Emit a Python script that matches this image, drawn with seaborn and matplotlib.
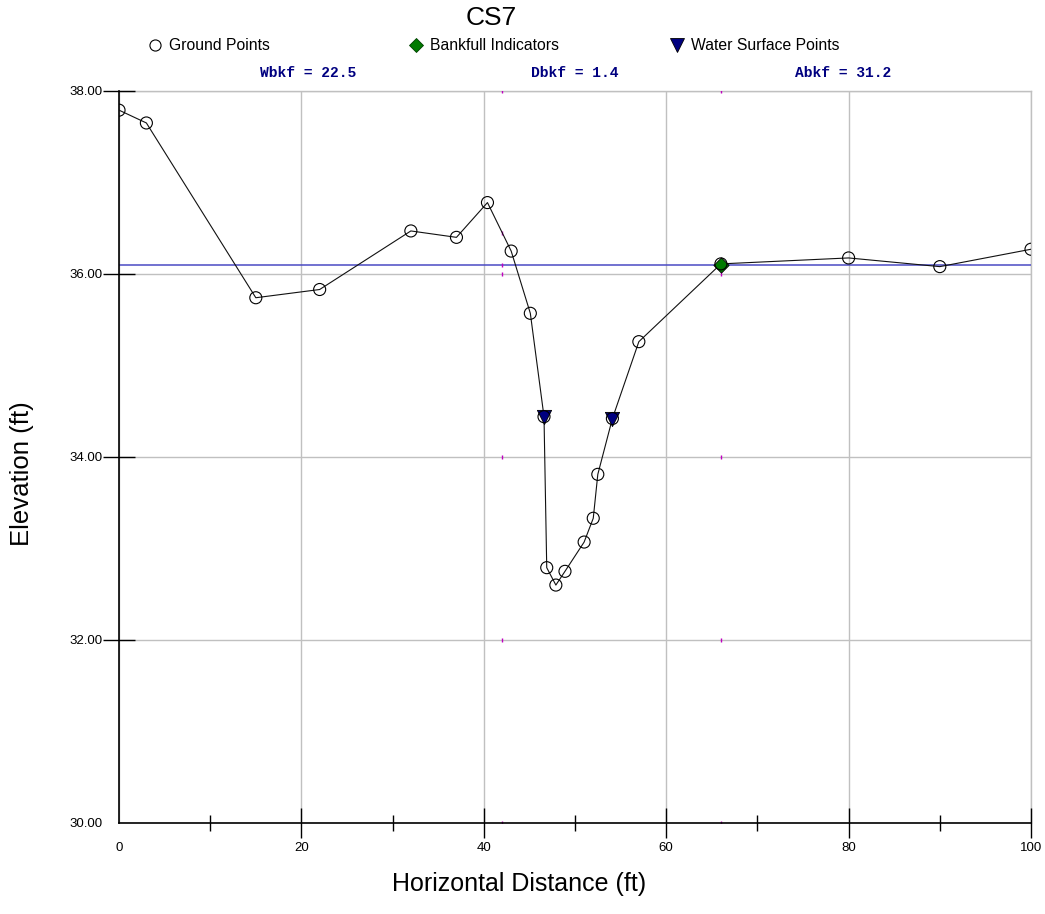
import matplotlib
matplotlib.use("Agg")
import matplotlib.pyplot as plt
import seaborn as sns
import pandas as pd
from matplotlib.lines import Line2D
from matplotlib.ticker import FixedLocator, FormatStrFormatter

# ---------------- data ----------------
title = "CS7"
station = [0, 3, 15, 22, 32, 37, 40.4, 43, 45.1, 46.6, 46.9, 47.9, 48.9, 51, 52,
           52.5, 54.1, 57, 66, 80, 90, 100]
elevation = [37.79, 37.65, 35.74, 35.83, 36.47, 36.40, 36.78, 36.25, 35.57, 34.44,
             32.79, 32.60, 32.75, 33.07, 33.33, 33.81, 34.42, 35.26, 36.11, 36.175,
             36.08, 36.27]
bankfull_x = [66.0]
bankfull_y = [36.10]
ws_x = [46.6, 54.1]
ws_y = [34.44, 34.42]
bankfull_elev = 36.10
bkf_marks_x = [42.0, 42.0, 42.0, 42.0, 42.0, 42.0, 42.0, 66.0, 66.0, 66.0, 66.0, 66.0, 66.0]
bkf_marks_y = [38.0, 36.45, 36.1, 36.0, 34.0, 32.0, 30.0, 38.0, 36.0, 34.0, 32.0, 30.0, 36.1]
stats_labels = ["Wbkf = 22.5", "Dbkf = 1.4", "Abkf = 31.2"]
legend_labels = ["Ground Points", "Bankfull Indicators", "Water Surface Points"]
x_major = [0, 20, 40, 60, 80, 100]
x_minor = [10, 30, 50, 70, 90]
y_major = [30, 32, 34, 36, 38]
xlabel = "Horizontal Distance (ft)"
ylabel = "Elevation (ft)"

ground = pd.DataFrame({"station": station, "elevation": elevation})
bkf = pd.DataFrame({"station": bankfull_x, "elevation": bankfull_y})
ws = pd.DataFrame({"station": ws_x, "elevation": ws_y})
marks = pd.DataFrame({"station": bkf_marks_x, "elevation": bkf_marks_y})

# ---------------- style ----------------
sns.set_style("white")
plt.rcParams["font.family"] = ["Liberation Sans", "DejaVu Sans"]
plt.rcParams["text.color"] = "black"

fig = plt.figure(figsize=(10.45, 9.14), dpi=100)
ax = fig.add_axes([0.1139, 0.0996, 0.8727, 0.8009])

ax.set_xlim(0, 100)
ax.set_ylim(30, 38)

grid_c = "#c0c0c0"
ax.set_axisbelow(True)
ax.grid(True, which="major", color=grid_c, lw=1.0)

# bankfull elevation line
ax.axhline(bankfull_elev, color="#4a4ac4", lw=1.1, zorder=2)

# magenta bankfull station marks
sns.scatterplot(data=marks, x="station", y="elevation", ax=ax, marker="|",
                s=6, color="#c000c0", linewidth=1.0, zorder=2, legend=False)

# ground line
sns.lineplot(data=ground, x="station", y="elevation", ax=ax, sort=False,
             estimator=None, color="#111111", lw=0.8, zorder=3, legend=False)

# bankfull indicator
sns.scatterplot(data=bkf, x="station", y="elevation", ax=ax, marker="D", s=60,
                color="#007a00", edgecolor="black", linewidth=0.6, zorder=4,
                legend=False)

# water surface points
sns.scatterplot(data=ws, x="station", y="elevation", ax=ax, marker="v", s=105,
                color="#000080", edgecolor="black", linewidth=0.6, zorder=5,
                legend=False)

# ground points (open circles)
sns.scatterplot(data=ground, x="station", y="elevation", ax=ax, marker="o", s=75,
                facecolor="none", edgecolor="black", linewidth=0.8, zorder=6,
                legend=False)

# spines
for side in ["top", "right"]:
    ax.spines[side].set_color(grid_c)
    ax.spines[side].set_linewidth(1.0)
    ax.spines[side].set_zorder(0.5)
for side in ["left", "bottom"]:
    ax.spines[side].set_color("black")
    ax.spines[side].set_linewidth(1.2)

# ticks
ax.xaxis.set_major_locator(FixedLocator(x_major))
ax.xaxis.set_minor_locator(FixedLocator(x_minor))
ax.yaxis.set_major_locator(FixedLocator(y_major))
ax.yaxis.set_major_formatter(FormatStrFormatter("%.2f"))
ax.set_xticklabels([str(v) for v in x_major])

tick_family = ["Liberation Sans Narrow", "Liberation Sans", "DejaVu Sans"]
ax.tick_params(axis="x", which="major", direction="inout", length=21.6, width=1.0,
               colors="black", pad=3, labelsize=9.5, bottom=True)
ax.tick_params(axis="x", which="minor", direction="inout", length=11.5, width=1.0,
               colors="black", bottom=True)
ax.tick_params(axis="y", which="major", direction="inout", length=23, width=1.0,
               colors="black", pad=0.5, labelsize=9.5, left=True)
for lab in ax.get_xticklabels() + ax.get_yticklabels():
    lab.set_family(tick_family)
    lab.set_color("black")
ax.xaxis.get_major_ticks()[0].tick1line.set_visible(False)
ax.yaxis.get_major_ticks()[0].tick1line.set_visible(False)

ax.set_xlabel("")
ax.set_ylabel("")

# labels and title
fig.text(0.47, 0.980, title, ha="center", va="center", fontsize=19, color="black")
fig.text(0.497, 0.033, xlabel, ha="center", va="center", fontsize=18, color="black")
fig.text(0.021, 0.4814, ylabel, ha="center", va="center", fontsize=18.5,
         rotation=90, color="black")

stat_x = [0.2947, 0.5502, 0.8067]
for sx, s in zip(stat_x, stats_labels):
    fig.text(sx, 0.920, s, ha="center", va="center", fontsize=10.5,
             fontweight="bold", color="#000080",
             family=["Liberation Mono", "DejaVu Sans Mono"])

# legend (three separate entries spread across the top)
handles = [
    Line2D([], [], ls="none", marker="o", markersize=8, markerfacecolor="white",
           markeredgecolor="black", markeredgewidth=0.8),
    Line2D([], [], ls="none", marker="D", markersize=7, markerfacecolor="#007a00",
           markeredgecolor="#004000", markeredgewidth=0.6),
    Line2D([], [], ls="none", marker="v", markersize=9.5, markerfacecolor="#000080",
           markeredgecolor="black", markeredgewidth=0.6),
]
marker_px = [155, 416, 677]
fs_leg = 11.3
for h, lab, mx in zip(handles, legend_labels, marker_px):
    half = 0.5 * fs_leg * 100 / 72
    leg = fig.legend(handles=[h], labels=[lab], loc="center left",
                     bbox_to_anchor=((mx - half) / 1045, 0.9497), frameon=False,
                     borderpad=0, borderaxespad=0, handlelength=1.0,
                     handletextpad=0.4, fontsize=fs_leg)
    for t in leg.get_texts():
        t.set_color("black")

fig.savefig("out.png", dpi=100)
